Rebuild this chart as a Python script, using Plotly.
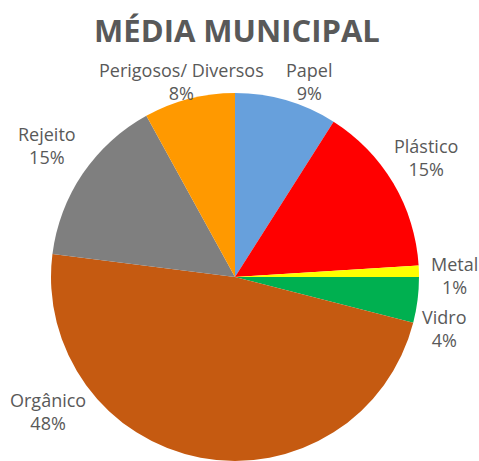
import plotly.graph_objects as go

labels = ["Papel", "Plástico", "Metal", "Vidro", "Orgânico", "Rejeito", "Perigosos/ Diversos"]
values = [9, 15, 1, 4, 48, 15, 8]
colors = ["#67A0DC", "#FF0000", "#FFFF00", "#00B050", "#C55A11", "#7F7F7F", "#FF9900"]

# label block centres (paper pixels in a 479x461 window), layout only
label_pos_px = {
    "Papel": (309, 81.5),
    "Plástico": (426, 157.5),
    "Metal": (454, 275),
    "Vidro": (444, 328.5),
    "Orgânico": (48, 411),
    "Rejeito": (47, 146),
    "Perigosos/ Diversos": (181, 81.5),
}

W, H = 479, 461
FONT = "Open Sans, Liberation Sans, sans-serif"

fig = go.Figure(go.Pie(
    labels=labels,
    values=values,
    sort=False,
    direction="clockwise",
    rotation=0,
    marker=dict(colors=colors, line=dict(width=0)),
    textinfo="none",
    domain=dict(x=[51 / W, 419 / W], y=[0.0, 1 - 93 / H]),
    showlegend=False,
    hoverinfo="label+percent",
))

total = sum(values)
annotations = []
for lab, val in zip(labels, values):
    px, py = label_pos_px[lab]
    annotations.append(dict(
        text=f"{lab}<br>{round(100 * val / total)}%",
        x=px / W, y=1 - py / H, xref="paper", yref="paper",
        xanchor="center", yanchor="middle", showarrow=False, align="center",
        font=dict(family=FONT, size=18, color="#595959"),
    ))

fig.update_layout(
    width=W, height=H,
    margin=dict(l=0, r=0, t=0, b=0),
    paper_bgcolor="white",
    annotations=annotations,
    title=dict(
        text="<b>MÉDIA MUNICIPAL</b>",
        x=237 / W, xanchor="center", y=0.932, yanchor="middle",
        font=dict(family=FONT, size=31, color="#595959"),
    ),
)

fig.write_html(
    "out.html",
    config={"displayModeBar": False},
    post_script="document.body.style.margin='0px';document.body.style.overflow='hidden';",
)
